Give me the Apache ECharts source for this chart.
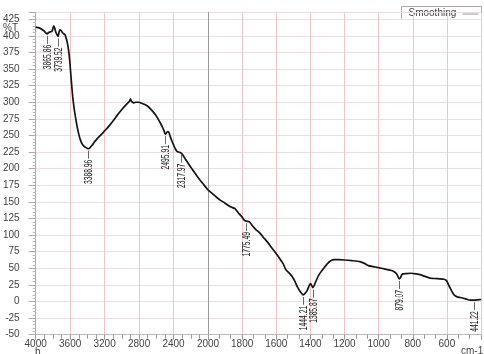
<!DOCTYPE html>
<html>
<head>
<meta charset="utf-8">
<script src="https://cdn.jsdelivr.net/npm/echarts@6/dist/echarts.min.js"></script>
<style>
  html, body { margin: 0; padding: 0; background: #fff; }
  #chart { width: 484px; height: 354px; }
</style>
</head>
<body>
<div id="chart"></div>
<script>
// FTIR spectrum: wavenumber (cm-1) against transmittance (%T)
const wavenumbers = [
  4000, 3960, 3930, 3900, 3880, 3866, 3850, 3830, 3810, 3800, 3790, 3780, 3765, 3750, 3740,
  3730, 3720, 3705, 3690, 3675, 3660, 3645, 3630, 3615, 3600, 3585, 3570, 3555, 3540, 3520,
  3500, 3480, 3460, 3440, 3420, 3400, 3389, 3375, 3360, 3340, 3320, 3300, 3280, 3250, 3220,
  3200, 3170, 3150, 3100, 3050, 3000, 2960, 2930, 2910, 2900, 2890, 2875, 2860, 2840, 2800,
  2780, 2740, 2700, 2660, 2620, 2580, 2550, 2530, 2510, 2496, 2485, 2470, 2455, 2440, 2420,
  2400, 2380, 2360, 2340, 2318, 2300, 2280, 2250, 2200, 2150, 2100, 2050, 2000,
  1950, 1930, 1900, 1872, 1843, 1824, 1800, 1786, 1775, 1757, 1740, 1718, 1700, 1670, 1650,
  1621, 1600, 1583, 1560, 1544, 1525, 1505, 1490, 1476, 1460, 1447, 1444, 1435, 1420, 1405,
  1399, 1390, 1386, 1378, 1365, 1350, 1322, 1300, 1283, 1260, 1235, 1200, 1158, 1110, 1080,
  1061, 1020, 984, 950, 916, 900, 891, 884, 879, 872, 865, 858, 840, 810, 780,
  752, 720, 694, 660, 617, 605, 597, 588, 578, 568, 558, 540, 520, 490, 462,
  440, 420, 400
];
const transmittance = [
  413, 412, 410, 407, 404, 403, 405, 406, 407, 411, 415, 412, 405, 401, 399,
  405, 409, 408, 405, 403, 402, 396, 388, 375, 355, 330, 308, 292, 279, 264,
  252, 243, 237, 234, 232, 230.5, 230, 231, 233, 236, 240, 243, 246, 250, 254,
  257, 261, 264, 272, 281, 289, 295, 299, 302, 305, 302, 300, 299, 300, 300,
  299, 297, 294, 289, 283, 275, 268, 263, 257, 252, 253, 256, 255, 249, 242,
  236, 230, 226, 225, 224, 222, 218, 212, 202, 193, 184, 176, 168,
  157, 153, 148, 143, 140, 134, 127, 122, 121, 120, 114, 108, 104, 95, 89,
  79, 72, 66, 57, 48, 43, 37, 30, 22, 15, 11, 10, 11, 16, 25,
  27, 23, 21, 24, 32, 40, 50, 57, 61, 63, 63, 62.5, 61.5, 60, 57,
  54, 52, 50, 48, 46, 43, 40, 36, 34, 36, 40, 41.5, 42, 42.5, 41.5,
  40, 37, 35, 34.5, 33.5, 32, 29, 24, 19, 14, 10, 7, 6, 4, 2,
  2, 2.5, 3
];

// Picked peaks: position (cm-1) and the %T of the trace there
const peakWavenumbers = [3865.86, 3739.52, 3388.96, 2495.91, 2317.97, 1775.49, 1444.21, 1385.87, 879.07, 441.22];
const peakTransmittance = [403, 399, 230, 252, 224, 121, 10, 21, 34, 2];

// Axis tick values
const leftTicks = [4000, 3600, 3200, 2800, 2400, 2000];
const rightTicks = [1800, 1600, 1400, 1200, 1000, 800, 600];
const yTicks = [425, 400, 375, 350, 325, 300, 275, 250, 225, 200, 175, 150, 125, 100, 75, 50, 25, 0, -25, -50];

const SPLIT = 2000;
const leftData = [], rightData = [];
wavenumbers.forEach((w, i) => {
  if (w >= SPLIT) leftData.push([w, transmittance[i]]);
  if (w <= SPLIT) rightData.push([w, transmittance[i]]);
});
const leftPeaks = [], rightPeaks = [];
peakWavenumbers.forEach((w, i) => {
  const item = [w, peakTransmittance[i], w.toFixed(2)];
  (w > SPLIT ? leftPeaks : rightPeaks).push(item);
});

const FONT = '"Liberation Sans", Arial, sans-serif';
const LABEL_FONT = '10.5px "Liberation Sans", Arial, sans-serif';
const vGrid = '#f0c4cb';
const hGrid = '#ebdfe0';

// Peak annotation: short leader below the trace, then the wavenumber read upwards
function peakRender(params, api) {
  const p = api.coord([api.value(0), api.value(1)]);
  const x = Math.round(p[0]) + 0.5;
  return {
    type: 'group',
    children: [
      { type: 'line', shape: { x1: x, y1: p[1] + 2, x2: x, y2: p[1] + 10 },
        style: { stroke: '#444', lineWidth: 0.8 } },
      { type: 'text', x: x + 0.5, y: p[1] + 11, rotation: Math.PI / 2, scaleX: 0.64,
        style: { text: api.value(2), align: 'right', verticalAlign: 'middle',
                 font: LABEL_FONT, fill: '#151515' } }
    ]
  };
}

function xAxisBase(idx, min, max, interval, minorSplit, ticks) {
  return {
    type: 'value', gridIndex: idx, min, max, interval, inverse: true,
    axisLine: { show: true, onZero: false, lineStyle: { color: '#bbb', width: 1 } },
    axisTick: { show: true, length: 5, lineStyle: { color: '#999' } },
    minorTick: { show: true, splitNumber: minorSplit, length: 4, lineStyle: { color: '#999' } },
    splitLine: { show: true, lineStyle: { color: vGrid, width: 1 } },
    axisLabel: {
      margin: 5, fontSize: 10, fontFamily: FONT, color: '#444',
      formatter: v => ticks.includes(v) ? String(v) : ''
    }
  };
}

function yAxisBase(idx, labels) {
  return {
    type: 'value', gridIndex: idx, min: -50, max: 435, interval: 25,
    axisLine: { show: true, onZero: false, lineStyle: { color: labels ? '#aaa' : '#999', width: 1 } },
    axisTick: { show: labels, length: 7, lineStyle: { color: '#aaa' } },
    minorTick: { show: labels, splitNumber: 5, length: 3, lineStyle: { color: '#bbb' } },
    splitLine: { show: true, lineStyle: { color: hGrid, width: 1 } },
    axisLabel: {
      show: labels, margin: 16, fontSize: 10, fontFamily: FONT, color: '#444',
      formatter: v => yTicks.includes(v) ? String(v) : ''
    }
  };
}

const chart = echarts.init(document.getElementById('chart'), null, { renderer: 'canvas' });
chart.setOption({
  backgroundColor: '#fff',
  animation: false,
  grid: [
    { left: 34.5, top: 12.6, width: 173.5, height: 322.1 },
    { left: 208, top: 12.6, width: 276, height: 322.1 }
  ],
  xAxis: [
    xAxisBase(0, 2000, 4000, 400, 4, leftTicks),
    xAxisBase(1, 400, 2000, 200, 3, rightTicks)
  ],
  yAxis: [yAxisBase(0, true), yAxisBase(1, false)],
  series: [
    { type: 'line', name: 'Smoothing', xAxisIndex: 0, yAxisIndex: 0, data: leftData,
      showSymbol: false, smooth: 0.2, lineStyle: { color: '#151515', width: 1.7 }, z: 5 },
    { type: 'line', name: 'Smoothing', xAxisIndex: 1, yAxisIndex: 1, data: rightData,
      showSymbol: false, smooth: 0.2, lineStyle: { color: '#151515', width: 1.7 }, z: 5 },
    { type: 'custom', xAxisIndex: 0, yAxisIndex: 0, data: leftPeaks, renderItem: peakRender, z: 6 },
    { type: 'custom', xAxisIndex: 1, yAxisIndex: 1, data: rightPeaks, renderItem: peakRender, z: 6 }
  ],
  graphic: [
    { type: 'text', left: 3, top: 23, style: { text: '%T', font: '10px ' + FONT, fill: '#444' } },
    { type: 'text', left: 35, top: 347, style: { text: 'b', font: '10px ' + FONT, fill: '#444' } },
    { type: 'text', left: 461, top: 346, style: { text: 'cm-1', font: '10px ' + FONT, fill: '#444' } },
    { type: 'group', left: 401, top: 6, z: 100, children: [
      { type: 'rect', shape: { x: 0, y: 0, width: 80, height: 13 },
        style: { fill: '#fff', stroke: '#aaa', lineWidth: 1 } },
      { type: 'text', x: 7, y: 7, style: { text: 'Smoothing', font: '10px ' + FONT, fill: '#444', verticalAlign: 'middle' } },
      { type: 'line', shape: { x1: 61, y1: 7.5, x2: 77, y2: 7.5 }, style: { stroke: '#999', lineWidth: 1 } }
    ] }
  ]
});
</script>
</body>
</html>
